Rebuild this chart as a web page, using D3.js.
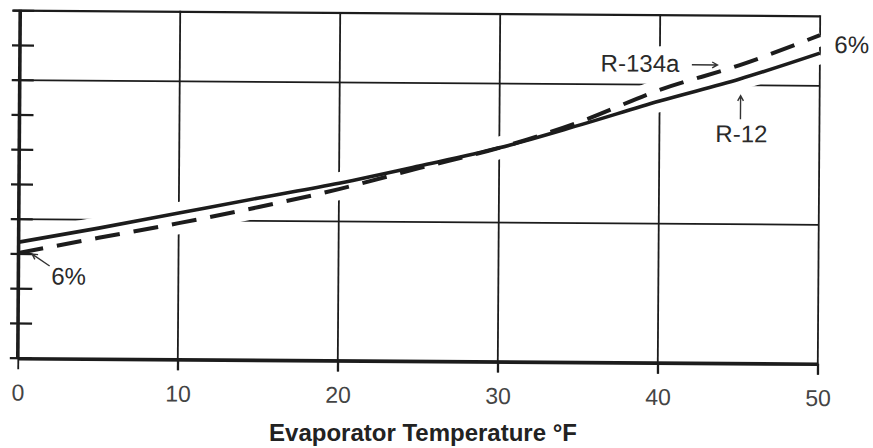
<!DOCTYPE html>
<html>
<head>
<meta charset="utf-8">
<script src="https://cdn.jsdelivr.net/npm/d3@7"></script>
<style>
  body { margin: 0; background: #fff; }
  svg { display: block; font-family: "Liberation Sans", Arial, Helvetica, sans-serif; }
</style>
</head>
<body>
<svg id="chart" width="873" height="448"></svg>
<script>
// Evaporator temperature (°F) and the two curves
const temps = [0, 5, 10, 15, 20, 25, 30, 35, 40, 45, 50];
const r12 = [3.34, 3.76, 4.21, 4.66, 5.10, 5.61, 6.15, 6.82, 7.53, 8.18, 8.94];
const r134a = [3.03, 3.48, 3.92, 4.40, 4.93, 5.55, 6.15, 6.91, 7.85, 8.58, 9.46];

const xTicks = [0, 10, 20, 30, 40, 50];
const xGrid = [10, 20, 30, 40, 50];
const yGrid = [4, 8, 10];
const yMinor = [0, 1, 2, 3, 4, 5, 6, 7, 8, 9, 10];

// annotations, anchored in data units
const labels = [
  { text: 'R-134a', t: 36.3, v: 8.37 },
  { text: 'R-12', t: 43.5, v: 6.36 },
  { text: '6%', t: 50.9, v: 8.95 },
  { text: '6%', t: 2.06, v: 2.13 }
];
const arrows = [
  { t1: 42.0, v1: 8.58, t2: 43.6, v2: 8.58 },
  { t1: 45.06, v1: 7.02, t2: 45.06, v2: 7.70 },
  { t1: 1.95, v1: 2.66, t2: 0.85, v2: 3.0 }
];

const svg = d3.select('#chart');
const x = d3.scaleLinear().domain([0, 50]).range([19, 819]);
const y = d3.scaleLinear().domain([0, 10]).range([361, 13.5]);
const ink = '#1c1c1c';

// the scan is slightly tilted
const g = svg.append('g').attr('transform', 'rotate(0.4, 419, 187)');

// horizontal grid + top frame
g.selectAll('.hgrid')
  .data(yGrid)
  .enter().append('line')
  .attr('x1', 12)
  .attr('x2', x(50))
  .attr('y1', d => y(d))
  .attr('y2', d => y(d))
  .attr('stroke', ink)
  .attr('stroke-width', d => d === 10 ? 2.2 : 1.8);

// vertical grid + right frame, running down past the axis as ticks
g.selectAll('.vgrid')
  .data(xGrid)
  .enter().append('line')
  .attr('x1', d => x(d))
  .attr('x2', d => x(d))
  .attr('y1', y(10) - 1)
  .attr('y2', y(0) + 11)
  .attr('stroke', ink)
  .attr('stroke-width', 1.8);

const line = d3.line()
  .x((d, i) => x(temps[i]))
  .y(d => y(d))
  .curve(d3.curveMonotoneX);

// white halos that break the grid where curves and labels sit
[r12, r134a].forEach(s => {
  g.append('path')
    .attr('d', line(s))
    .attr('fill', 'none')
    .attr('stroke', '#fff')
    .attr('stroke-width', 22);
});

g.selectAll('.halo')
  .data(labels)
  .enter().append('text')
  .attr('x', d => x(d.t))
  .attr('y', d => y(d.v))
  .attr('font-size', 24)
  .attr('fill', '#fff')
  .attr('stroke', '#fff')
  .attr('stroke-width', 18)
  .attr('stroke-linejoin', 'round')
  .text(d => d.text);

g.selectAll('.arrowhalo')
  .data(arrows)
  .enter().append('line')
  .attr('x1', d => x(d.t1))
  .attr('y1', d => y(d.v1))
  .attr('x2', d => x(d.t2))
  .attr('y2', d => y(d.v2))
  .attr('stroke', '#fff')
  .attr('stroke-width', 16)
  .attr('stroke-linecap', 'round');

// curves
g.append('path')
  .attr('d', line(r12))
  .attr('fill', 'none')
  .attr('stroke', ink)
  .attr('stroke-width', 3.6);

g.append('path')
  .attr('d', line(r134a))
  .attr('fill', 'none')
  .attr('stroke', ink)
  .attr('stroke-width', 4)
  .attr('stroke-dasharray', '25,14');

// left axis with minor ticks on both sides
g.append('line')
  .attr('x1', x(0))
  .attr('x2', x(0))
  .attr('y1', y(10) - 1)
  .attr('y2', y(0))
  .attr('stroke', ink)
  .attr('stroke-width', 3.6);

g.selectAll('.ytick')
  .data(yMinor)
  .enter().append('line')
  .attr('x1', 11)
  .attr('x2', 33)
  .attr('y1', d => y(d))
  .attr('y2', d => y(d))
  .attr('stroke', ink)
  .attr('stroke-width', 2.2);

// bottom axis
const xAxis = g.append('g')
  .attr('transform', `translate(0,${y(0)})`)
  .call(d3.axisBottom(x).tickValues(xTicks).tickSize(11).tickSizeOuter(0).tickPadding(15));

xAxis.select('.domain')
  .attr('stroke', ink)
  .attr('stroke-width', 3.6);
xAxis.selectAll('.tick line')
  .attr('stroke', ink)
  .attr('stroke-width', 1.8);
xAxis.selectAll('.tick text')
  .attr('font-size', 23)
  .attr('font-family', '"Liberation Sans", Arial, sans-serif')
  .attr('fill', '#444');

// annotations
g.selectAll('.label')
  .data(labels)
  .enter().append('text')
  .attr('x', d => x(d.t))
  .attr('y', d => y(d.v))
  .attr('font-size', 24)
  .attr('fill', '#2a2a2a')
  .text(d => d.text);

arrows.forEach(a => {
  const x1 = x(a.t1), y1 = y(a.v1), x2 = x(a.t2), y2 = y(a.v2);
  const ang = Math.atan2(y2 - y1, x2 - x1);
  const h = 6;
  const p = d3.path();
  p.moveTo(x1, y1);
  p.lineTo(x2, y2);
  p.moveTo(x2 - h * Math.cos(ang - 0.5), y2 - h * Math.sin(ang - 0.5));
  p.lineTo(x2, y2);
  p.lineTo(x2 - h * Math.cos(ang + 0.5), y2 - h * Math.sin(ang + 0.5));
  g.append('path')
    .attr('d', p.toString())
    .attr('fill', 'none')
    .attr('stroke', '#333')
    .attr('stroke-width', 1.4);
});

// axis title
svg.append('text')
  .attr('x', 423)
  .attr('y', 441)
  .attr('text-anchor', 'middle')
  .attr('font-size', 24)
  .attr('font-weight', 'bold')
  .attr('fill', '#222')
  .text('Evaporator Temperature °F');
</script>
</body>
</html>
